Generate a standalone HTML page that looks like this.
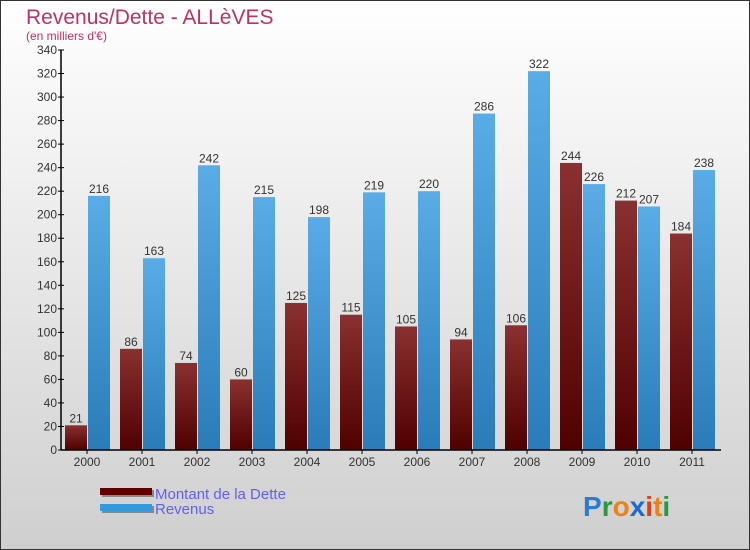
<!DOCTYPE html>
<html><head><meta charset="utf-8"><style>
body{margin:0;}
#wrap{width:750px;height:550px;position:relative;overflow:hidden;font-family:"Liberation Sans",sans-serif;}
</style></head><body>
<div id="wrap">
<svg id="chart" width="750" height="550" xmlns="http://www.w3.org/2000/svg">
<defs>
<linearGradient id="bg" x1="0" y1="0" x2="0" y2="1"><stop offset="0" stop-color="#ffffff"/><stop offset="1" stop-color="#cfcfcf"/></linearGradient>
<linearGradient id="gd" x1="0" y1="0" x2="0" y2="1"><stop offset="0" stop-color="#8a3030"/><stop offset="1" stop-color="#500000"/></linearGradient>
<linearGradient id="gr" x1="0" y1="0" x2="0" y2="1"><stop offset="0" stop-color="#5aace6"/><stop offset="1" stop-color="#2a7cb8"/></linearGradient>
</defs>
<rect x="0.5" y="0.5" width="749" height="549" fill="url(#bg)" stroke="#333"/>
<text x="26" y="24" font-size="21" fill="#c03060">Revenus/Dette - ALLèVES</text>
<text x="26" y="40" font-size="12" fill="#c03060">(en milliers d'€)</text>
<g id="plot"></g>
<g>
<rect x="102" y="490" width="52" height="7" fill="#888"/>
<rect x="100" y="488" width="52" height="7" fill="#600000"/>
<text x="155" y="499" font-size="15" fill="#6060f0">Montant de la Dette</text>
<rect x="102" y="506" width="52" height="7" fill="#888"/>
<rect x="100" y="504" width="52" height="7" fill="#3399dd"/>
<text x="155" y="514" font-size="15" fill="#6060f0">Revenus</text>
</g>
<g font-size="28" font-weight="bold">
<text x="583" y="516"><tspan fill="#2a7cd0">P</tspan><tspan fill="#2a9a40">r</tspan><tspan fill="#f08010">o</tspan><tspan fill="#1a6ad0">x</tspan><tspan fill="#e04010">i</tspan><tspan fill="#f08010">t</tspan><tspan fill="#2a9a40">i</tspan></text>
</g>
</svg>
</div>
<script>
const categories=["2000","2001","2002","2003","2004","2005","2006","2007","2008","2009","2010","2011"];
const detteValues=[21,86,74,60,125,115,105,94,106,244,212,184];
const revenusValues=[216,163,242,215,198,219,220,286,322,226,207,238];
const yTicks=[0,20,40,60,80,100,120,140,160,180,200,220,240,260,280,300,320,340];
const NS="http://www.w3.org/2000/svg";
const plot=document.getElementById('plot');
const x0=61,x1=721,y0=450,y1=50,yMax=340;
const groupW=(x1-x0)/categories.length;
function yScale(v){return y0-(v/yMax)*(y0-y1);}
function xGroup(i){return x0+i*groupW;}
function mk(tag,attrs){const e=document.createElementNS(NS,tag);for(const k in attrs)e.setAttribute(k,attrs[k]);plot.appendChild(e);return e;}
categories.forEach((c,i)=>{
  const gx=xGroup(i);
  const d=mk('rect',{x:gx+4,y:yScale(detteValues[i]),width:22,height:y0-yScale(detteValues[i]),fill:'url(#gd)'});
  
  
  const r=mk('rect',{x:gx+27,y:yScale(revenusValues[i]),width:22,height:y0-yScale(revenusValues[i]),fill:'url(#gr)'});
  
  
  const dl=mk('text',{x:gx+15,y:yScale(detteValues[i])-3,'font-size':12,fill:'#333','text-anchor':'middle'});
  dl.textContent=detteValues[i];
  
  
  const rl=mk('text',{x:gx+38,y:yScale(revenusValues[i])-3,'font-size':12,fill:'#333','text-anchor':'middle'});
  rl.textContent=revenusValues[i];
  
  
  const t=mk('line',{x1:gx+26,x2:gx+26,y1:y0,y2:y0+4,stroke:'#000'});
  
  
  const tl=mk('text',{x:gx+26,y:466,'font-size':12,fill:'#333','text-anchor':'middle'});
  tl.textContent=c;
  
  
});
yTicks.forEach(v=>{
  const y=yScale(v);
  const t=mk('line',{x1:x0-3,x2:x0+3,y1:y,y2:y,stroke:'#000'});
  
  
  const tl=mk('text',{x:x0-4,y:y+4,'font-size':12,fill:'#333','text-anchor':'end'});
  tl.textContent=v;
  
  
});
const ya=mk('line',{x1:x0,x2:x0,y1:y1,y2:y0,stroke:'#000','stroke-width':1.5});


const xa=mk('line',{x1:x0,x2:x1,y1:y0,y2:y0,stroke:'#000','stroke-width':1.5});


</script>
</body></html>
